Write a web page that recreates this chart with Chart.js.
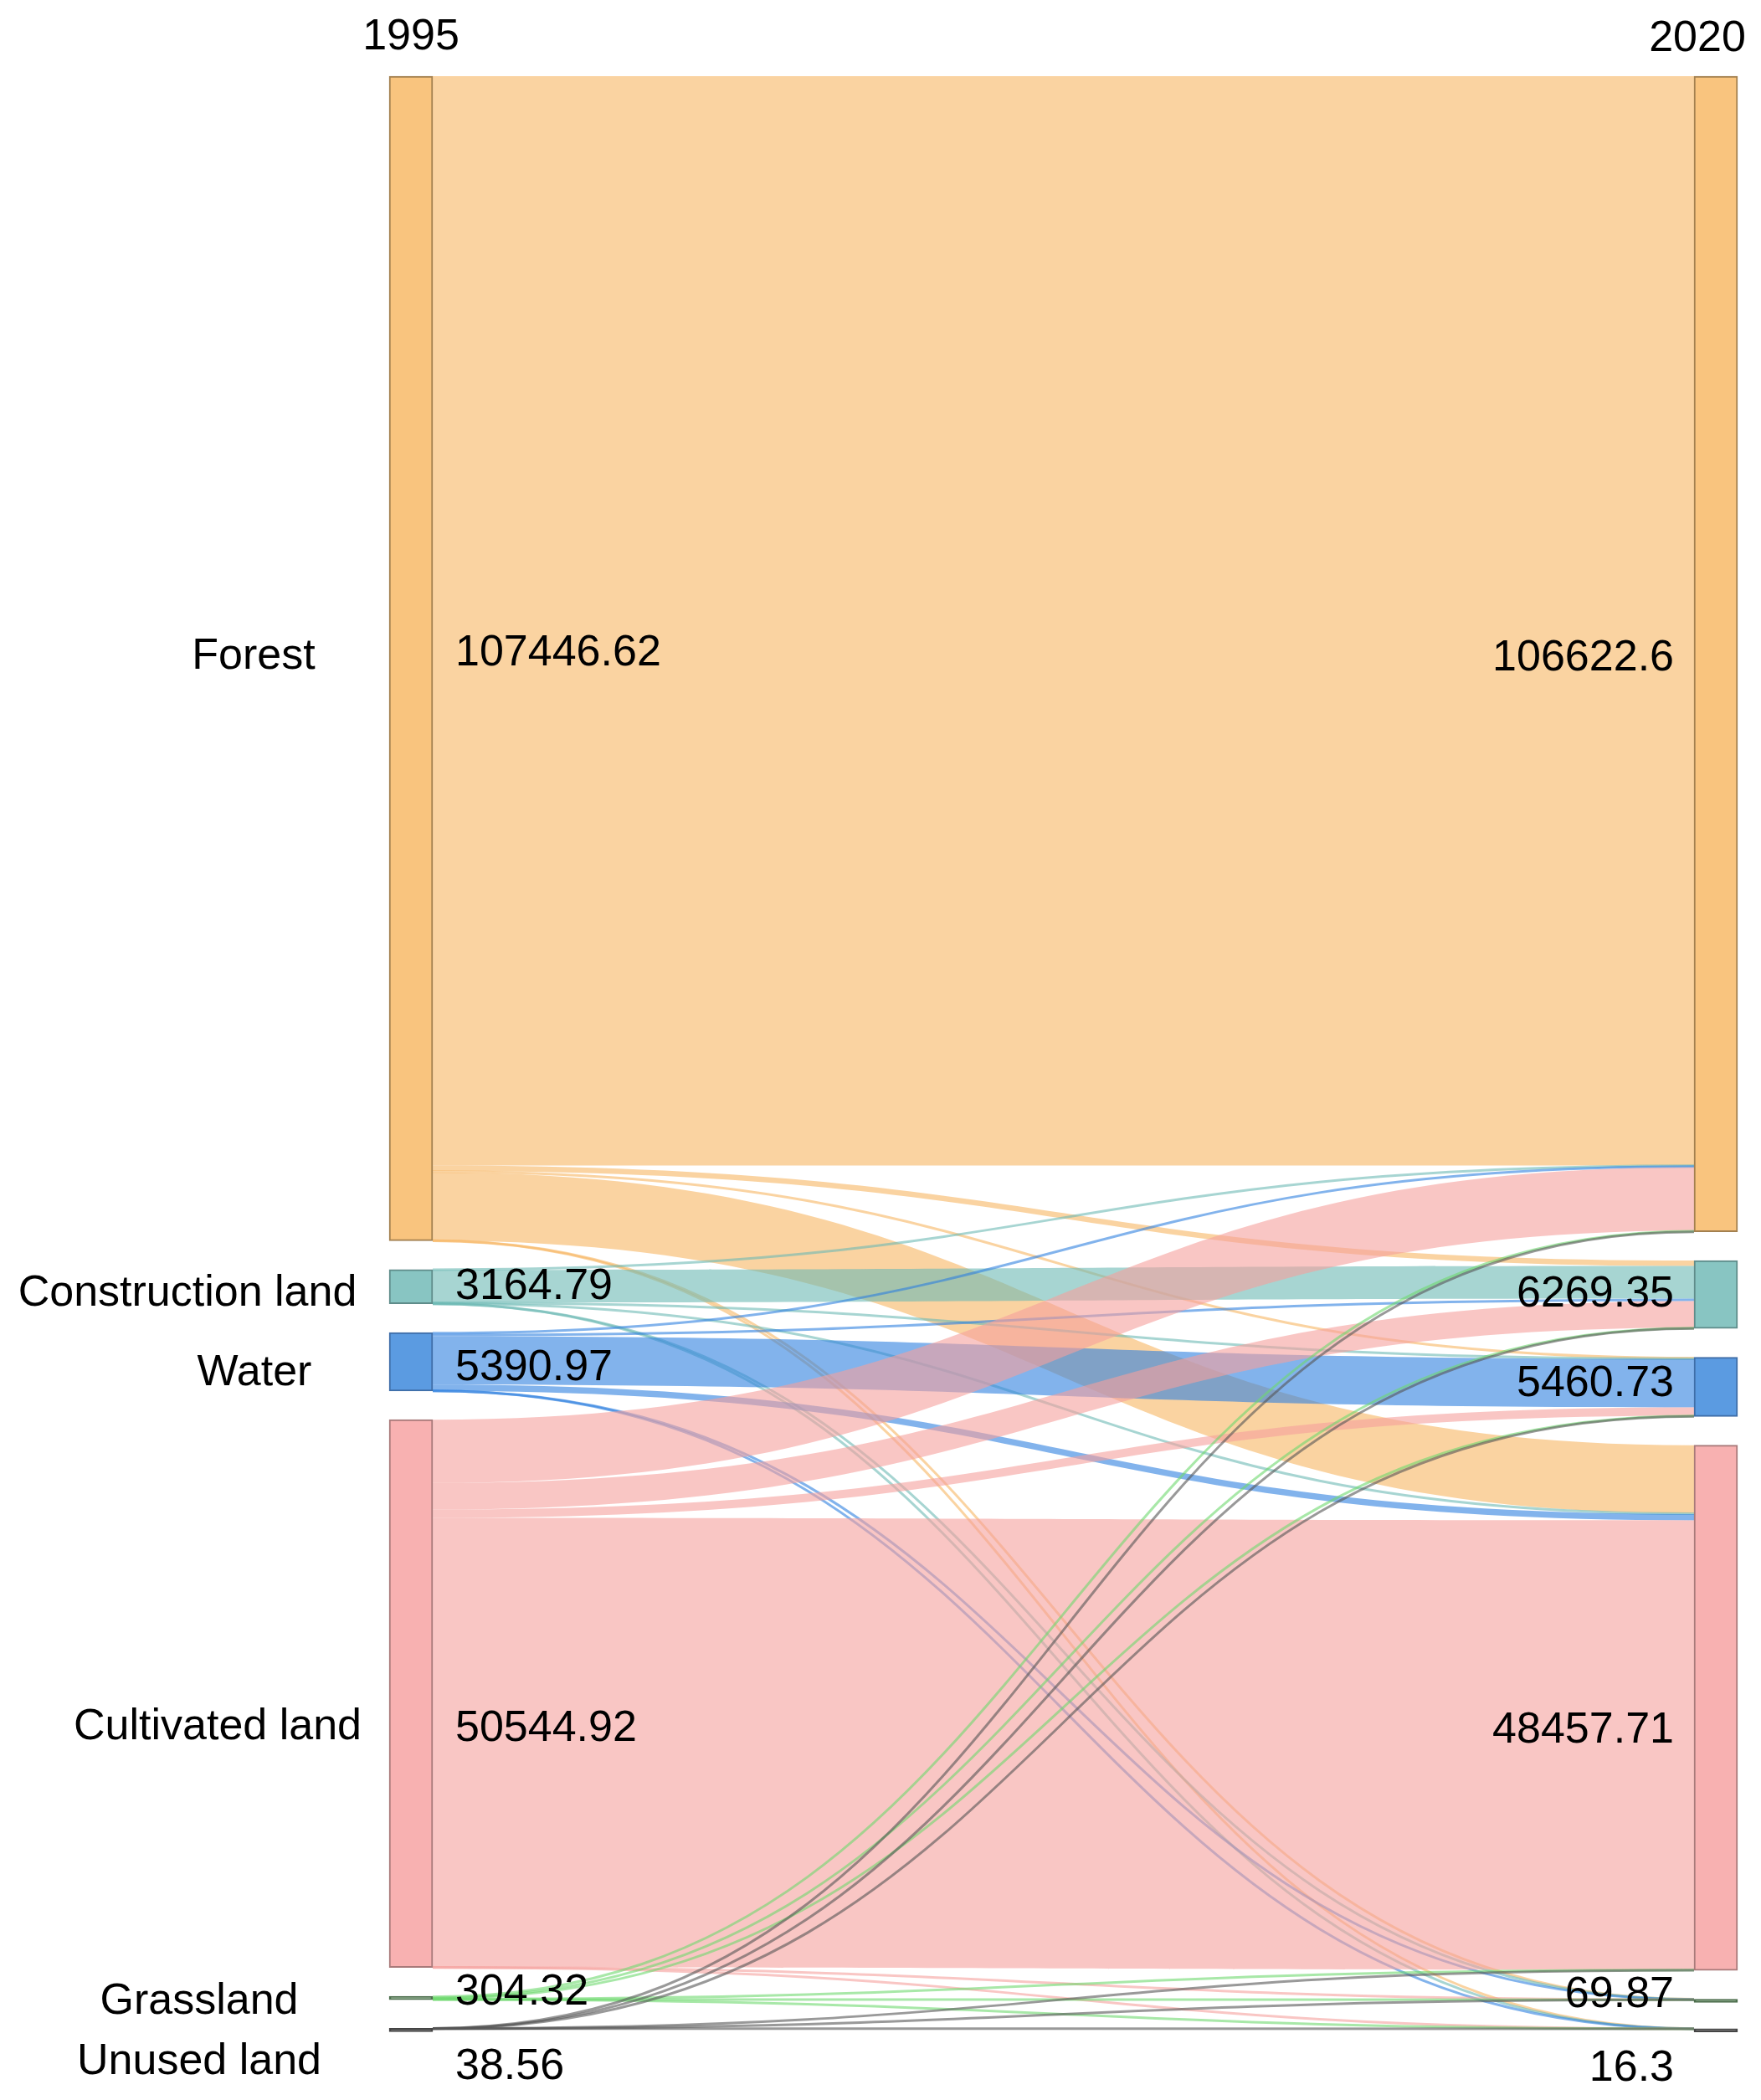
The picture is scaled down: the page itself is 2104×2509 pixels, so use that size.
<!DOCTYPE html>
<html>
<head>
<meta charset="utf-8">
<script src="https://cdn.jsdelivr.net/npm/chart.js@4.4.1/dist/chart.umd.min.js"></script>
<style>
  html, body { margin: 0; padding: 0; background: #fff; }
  canvas { display: block; }
</style>
</head>
<body>
<canvas id="sankey" width="2104" height="2509"></canvas>
<script>
// land use types, same order on both sides
const landTypes = ['Forest', 'Construction land', 'Water', 'Cultivated land', 'Grassland', 'Unused land'];
const years = ['1995', '2020'];
const area1995 = [107446.62, 3164.79, 5390.97, 50544.92, 304.32, 38.56];
const area2020 = [106622.6, 6269.35, 5460.73, 48457.71, 69.87, 16.3];

// transfers out of each 1995 type, into Forest, Construction, Water, Cultivated, Grassland, Unused (2020)
const fromForest       = [100498.62, 500, 130, 6300, 15, 3];
const fromConstruction = [40, 3009.79, 40, 60, 12, 3];
const fromWater        = [120, 230, 4455.97, 570, 12, 3];
const fromCultivated   = [5841.98, 2451.56, 768.76, 41464.62, 15, 3];
const fromGrassland    = [110, 70, 60, 52.32, 10, 2];
const fromUnused       = [12, 8, 6, 4.39, 5.87, 2.3];
const flows = [fromForest, fromConstruction, fromWater, fromCultivated, fromGrassland, fromUnused];

// styling
const nodeFill   = ['#f9c47e', '#88c5c2', '#5b9be1', '#f8b1b1', '#6a976a', '#555555'];
const nodeBorder = ['#a3804f', '#5f8c8a', '#3f6ea8', '#a87a7a', '#4d6e4d', '#444444'];
const linkColor  = ['rgba(247,181,99,0.6)', 'rgba(108,185,180,0.6)', 'rgba(47,128,223,0.6)',
                    'rgba(245,160,157,0.6)', 'rgba(110,217,110,0.6)', 'rgba(85,85,85,0.6)'];
const GAP = 2650;          // vertical space between nodes, in data units
const Y_MAX = 180230;
const NODE_W = 52;
const fontSpec = '52px "Liberation Sans", Arial, sans-serif';

// label placement tweaks (px), the original figure was hand-placed
const nameX   = [303, 224, 304, 260, 238, 238];
const nameDy  = [-2, 8, 14, 40, 5, 40];
const leftDy  = [-6, 0, 8, 42, -6, 46];
const rightDy = [5, 0, -3, 27, -5, 48];

const stackNodes = (values) => {
    let y = 0;
    return values.map(v => {
        const span = [y, y + v];
        y += v + GAP;
        return span;
    });
};
const spans1995 = stackNodes(area1995);
const spans2020 = stackNodes(area2020);

const nodeDatasets = landTypes.map((name, i) => ({
    label: name,
    data: [{x: 0, y: spans1995[i]}, {x: 1, y: spans2020[i]}],
    backgroundColor: nodeFill[i],
    borderColor: nodeBorder[i],
    borderWidth: 2,
    borderSkipped: false,
    barThickness: NODE_W,
    minBarLength: 4,
    grouped: false,
    clip: false
}));

const linksPlugin = {
    id: 'links',
    beforeDatasetsDraw(chart) {
        const {ctx, scales: {x, y}} = chart;
        const xs = x.getPixelForValue(0) + NODE_W / 2;
        const xt = x.getPixelForValue(1) - NODE_W / 2;
        const xm = (xs + xt) / 2;
        const outOff = landTypes.map(() => 0);
        const inOff = landTypes.map(() => 0);
        ctx.save();
        flows.forEach((row, i) => {
            row.forEach((v, j) => {
                const a0 = y.getPixelForValue(spans1995[i][0] + outOff[i]);
                const a1 = y.getPixelForValue(spans1995[i][0] + outOff[i] + v);
                const b0 = y.getPixelForValue(spans2020[j][0] + inOff[j]);
                const b1 = y.getPixelForValue(spans2020[j][0] + inOff[j] + v);
                outOff[i] += v;
                inOff[j] += v;
                if (a1 - a0 < 3) {
                    // tiny transfers get a minimum visible width
                    const ac = (a0 + a1) / 2, bc = (b0 + b1) / 2;
                    ctx.beginPath();
                    ctx.moveTo(xs, ac);
                    ctx.bezierCurveTo(xm, ac, xm, bc, xt, bc);
                    ctx.strokeStyle = linkColor[i];
                    ctx.lineWidth = 3;
                    ctx.stroke();
                } else {
                    ctx.beginPath();
                    ctx.moveTo(xs, a0);
                    ctx.bezierCurveTo(xm, a0, xm, b0, xt, b0);
                    ctx.lineTo(xt, b1);
                    ctx.bezierCurveTo(xm, b1, xm, a1, xs, a1);
                    ctx.closePath();
                    ctx.fillStyle = linkColor[i];
                    ctx.fill();
                }
            });
        });
        ctx.restore();
    }
};

const labelsPlugin = {
    id: 'labels',
    afterDatasetsDraw(chart) {
        const {ctx, scales: {x, y}} = chart;
        const lx = x.getPixelForValue(0);
        const rx = x.getPixelForValue(1);
        const mid = (span) => (y.getPixelForValue(span[0]) + y.getPixelForValue(span[1])) / 2;
        ctx.save();
        ctx.font = fontSpec;
        ctx.fillStyle = '#000';
        ctx.textBaseline = 'middle';

        ctx.textAlign = 'center';
        ctx.fillText(years[0], lx, 45);
        ctx.fillText(years[1], rx - 22, 47);

        landTypes.forEach((name, i) => {
            const ly = mid(spans1995[i]);
            const ry = mid(spans2020[i]);
            ctx.textAlign = 'center';
            ctx.fillText(name, nameX[i], ly + nameDy[i]);
            ctx.textAlign = 'left';
            ctx.fillText(String(area1995[i]), lx + 53, ly + leftDy[i]);
            ctx.textAlign = 'right';
            ctx.fillText(String(area2020[i]), rx - 50, ry + rightDy[i]);
        });
        ctx.restore();
    }
};

new Chart(document.getElementById('sankey'), {
    type: 'bar',
    data: {datasets: nodeDatasets},
    options: {
        responsive: false,
        animation: false,
        devicePixelRatio: 1,
        layout: {padding: {left: 491, right: 54, top: 91, bottom: 84}},
        scales: {
            x: {type: 'linear', min: 0, max: 1, offset: false, display: false},
            y: {type: 'linear', min: 0, max: Y_MAX, reverse: true, display: false}
        },
        plugins: {
            legend: {display: false},
            tooltip: {enabled: false}
        }
    },
    plugins: [linksPlugin, labelsPlugin]
});
</script>
</body>
</html>
